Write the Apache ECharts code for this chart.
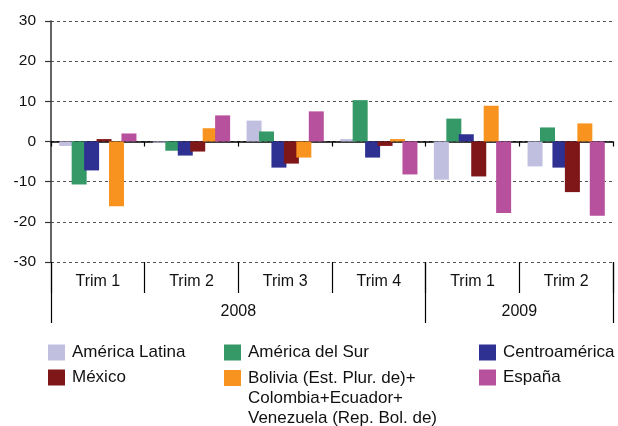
<!DOCTYPE html>
<html>
<head>
<meta charset="utf-8">
<script src="https://cdn.jsdelivr.net/npm/echarts@6/dist/echarts.min.js"></script>
<style>html,body{margin:0;padding:0;background:#fff;}#c{width:618px;height:426px;}</style>
</head>
<body>
<div id="c"></div>
<script>
const quarters = ['Trim 1', 'Trim 2', 'Trim 3', 'Trim 4', 'Trim 1', 'Trim 2'];
const years = ['2008', '2009'];
const quartersPerYear = [4, 2];
const yTicks = [-30, -20, -10, 0, 10, 20, 30];

const seriesNames = [
  'América Latina',
  'América del Sur',
  'Centroamérica',
  'México',
  'Bolivia (Est. Plur. de)+\nColombia+Ecuador+\nVenezuela (Rep. Bol. de)',
  'España'
];
const americaLatina = [-1.1, -0.3, 5.2, 0.6, -9.5, -6.2];
const americaDelSur = [-10.7, -2.3, 2.5, 10.3, 5.7, 3.5];
const centroamerica = [-7.2, -3.5, -6.5, -4.0, 1.8, -6.5];
const mexico = [0.6, -2.5, -5.5, -1.1, -8.7, -12.6];
const bolivia = [-16.1, 3.3, -4.0, 0.6, 8.9, 4.5];
const espana = [2.0, 6.5, 7.5, -8.2, -17.8, -18.5];

const seriesValues = [americaLatina, americaDelSur, centroamerica, mexico, bolivia, espana];
const colors = ['#c0bfdf', '#349966', '#2e3192', '#7f1618', '#f7931e', '#b8519d'];

// year boundaries and centers on a 0..n scale
const yearBounds = [0];
quartersPerYear.forEach((n, i) => yearBounds.push(yearBounds[i] + n));
const yearCenters = years.map((y, i) => (yearBounds[i] + yearBounds[i + 1]) / 2);

const font = 'Liberation Sans, Arial, Helvetica, sans-serif';
const txt = '#111';

const chart = echarts.init(document.getElementById('c'), null, {renderer: 'canvas'});
chart.setOption({
  animation: false,
  color: colors,
  textStyle: {fontFamily: font},
  grid: {left: 51, right: 5, top: 21, bottom: 164, containLabel: false},
  xAxis: [
    {
      type: 'category', data: quarters, position: 'bottom',
      axisLine: {onZero: true, lineStyle: {color: '#000', width: 1.5}},
      axisTick: {show: true, length: 5, interval: 0, lineStyle: {color: '#000', width: 1.2}},
      axisLabel: {show: false},
      splitLine: {show: false}
    },
    {
      type: 'category', data: quarters, position: 'bottom',
      axisLine: {show: false, onZero: false},
      axisTick: {show: true, length: 31, interval: 0, lineStyle: {color: '#000', width: 1.2}},
      axisLabel: {show: true, interval: 0, margin: 12, fontSize: 16, color: txt, fontFamily: font},
      splitLine: {show: false}
    },
    {
      type: 'value', min: 0, max: yearBounds[yearBounds.length - 1], position: 'bottom',
      axisLine: {show: false, onZero: false},
      axisTick: {show: true, length: 61, customValues: yearBounds, lineStyle: {color: '#000', width: 1.2}},
      axisLabel: {
        show: true, margin: 42, fontSize: 16, color: txt, fontFamily: font,
        customValues: yearCenters,
        formatter: v => { const i = yearCenters.indexOf(v); return i >= 0 ? years[i] : ''; }
      },
      splitLine: {show: false}
    }
  ],
  yAxis: {
    type: 'value', min: yTicks[0], max: yTicks[yTicks.length - 1], interval: 10,
    axisLine: {show: true, onZero: false, lineStyle: {color: '#333', width: 1.5}},
    axisTick: {show: true, length: 6, lineStyle: {color: '#333', width: 1.2}},
    axisLabel: {margin: 15, fontSize: 15.5, color: txt, fontFamily: font},
    splitLine: {show: true, lineStyle: {color: '#555', width: 1, type: [3, 3]}}
  },
  legend: [
    {
      orient: 'vertical', left: 48, top: 344, padding: 0, itemWidth: 17, itemHeight: 16, itemGap: 8,
      icon: 'rect', data: [seriesNames[0], seriesNames[3]],
      textStyle: {fontSize: 17, color: txt, fontFamily: font, lineHeight: 16, padding: [0, 0, 0, 2]}
    },
    {
      orient: 'vertical', left: 224, top: 344, padding: 0, itemWidth: 17, itemHeight: 16, itemGap: 8,
      icon: 'rect', data: [seriesNames[1]],
      textStyle: {fontSize: 17, color: txt, fontFamily: font, lineHeight: 16, padding: [0, 0, 0, 2]}
    },
    {
      orient: 'vertical', left: 224, top: 368, padding: 0, itemWidth: 17, itemHeight: 56, itemGap: 8,
      data: [{name: seriesNames[4], icon: 'path://M0,0L17,0L17,16L0,16Z M0,56L0,56'}],
      textStyle: {fontSize: 17, color: txt, fontFamily: font, lineHeight: 20, padding: [0, 0, 0, 2]}
    },
    {
      orient: 'vertical', left: 479, top: 344, padding: 0, itemWidth: 17, itemHeight: 16, itemGap: 8,
      icon: 'rect', data: [seriesNames[2], seriesNames[5]],
      textStyle: {fontSize: 17, color: txt, fontFamily: font, lineHeight: 16, padding: [0, 0, 0, 2]}
    }
  ],
  series: seriesNames.map((name, i) => ({
    name: name,
    type: 'bar',
    xAxisIndex: 0,
    data: seriesValues[i],
    barWidth: 15,
    barGap: '-17%',
    itemStyle: {color: colors[i]}
  }))
});
</script>
</body>
</html>
